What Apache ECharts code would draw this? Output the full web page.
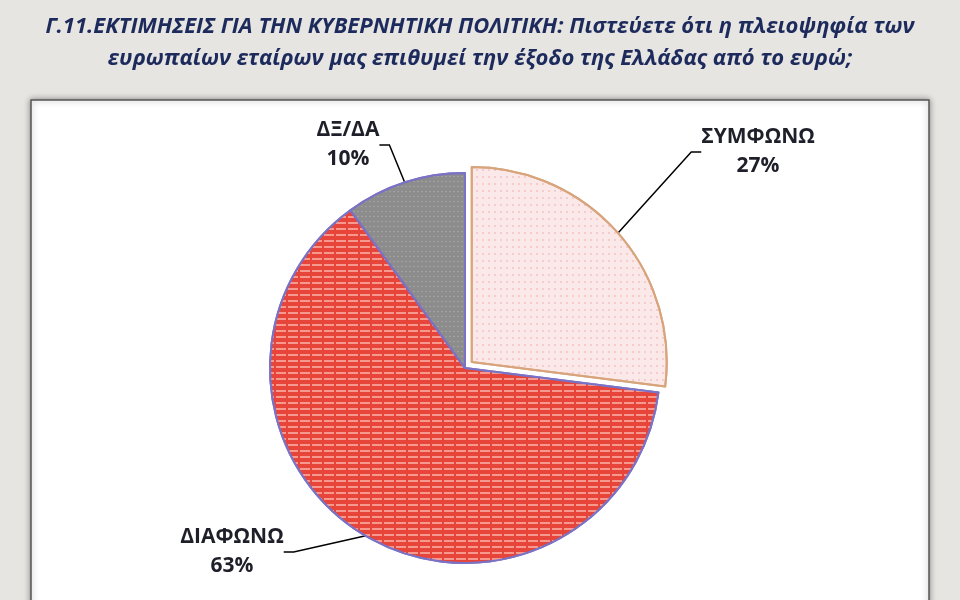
<!DOCTYPE html>
<html><head><meta charset="utf-8">
<script src="https://cdn.jsdelivr.net/npm/echarts@6/dist/echarts.min.js"></script>
<style>html,body{margin:0;padding:0;background:#e6e5e2}#c{width:960px;height:600px}</style>
</head><body><div id="c"></div>
<script>
const categories = ['ΣΥΜΦΩΝΩ', 'ΔΙΑΦΩΝΩ', 'ΔΞ/ΔΑ'];
const values = [27, 63, 10];
const labelPos = [[758, 152], [232, 552], [348, 145]];
const fills = ['#fbe9e9', '#e8453a', '#8c8c8c'];
const borders = ['#d8a47c', '#7a72c4', '#7a72c4'];
const decals = [
  {symbol:'circle', color:'rgba(230,110,110,0.55)', symbolSize:0.4, dashArrayX:[6,0], dashArrayY:[4,3]},
  {symbol:'rect', color:'rgba(255,190,180,0.7)', symbolSize:1, dashArrayX:[[10,2]], dashArrayY:[2,4]},
  {symbol:'circle', color:'rgba(200,200,200,0.5)', symbolSize:0.5, dashArrayX:[4,0], dashArrayY:[3,2]}
];
const total = values.reduce((a, b) => a + b, 0);
const bis = (90 - 180 * values[0] / total) * Math.PI / 180;
const off = 9;
const lbl = {formatter: '{b}\n{d}%', fontFamily:'Open Sans, sans-serif', fontWeight:'bold', fontSize: 21, color:'#1f1f2a', lineHeight: 29, align:'center'};
const line = {show: true, length: 20, length2: 10, lineStyle: {color:'#000', width: 1.5}};
const layout = p => ({x: labelPos[p.dataIndex][0], y: labelPos[p.dataIndex][1], align: 'center', verticalAlign: 'middle'});
function item(i, hidden) {
  return hidden
    ? {name: categories[i], value: values[i], itemStyle: {color:'rgba(0,0,0,0)', borderWidth:0}, label:{show:false}, labelLine:{show:false}}
    : {name: categories[i], value: values[i], itemStyle: {color: fills[i], borderColor: borders[i], borderWidth: 2, decal: decals[i]}};
}
const chart = echarts.init(document.getElementById('c'));
chart.setOption({
  backgroundColor: '#e6e5e2',
  title: {
    text: 'Γ.11.ΕΚΤΙΜΗΣΕΙΣ ΓΙΑ ΤΗΝ ΚΥΒΕΡΝΗΤΙΚΗ ΠΟΛΙΤΙΚΗ: Πιστεύετε ότι η πλειοψηφία των\nευρωπαίων εταίρων μας επιθυμεί την έξοδο της Ελλάδας από το ευρώ;',
    left: 'center', top: 6,
    textStyle: {fontFamily: 'Open Sans, sans-serif', fontStyle:'italic', fontWeight:'bold', fontSize: 22, color:'#1d2a5c', lineHeight: 32}
  },
  graphic: [{type:'rect', shape:{x:31, y:100, width:898, height:510}, style:{fill:'#ffffff', stroke:'#555', lineWidth:1.5, shadowBlur:6, shadowColor:'rgba(0,0,0,0.4)'}, z:-10}],
  series: [{
    type: 'pie', center: [465, 368], radius: 195, startAngle: 90, clockwise: true,
    data: categories.map((n, i) => item(i, i === 0)),
    label: lbl, labelLine: line, labelLayout: layout, emphasis: {disabled: true}
  }, {
    type: 'pie', center: [465 + off * Math.cos(bis), 368 - off * Math.sin(bis)], radius: 195, startAngle: 90, clockwise: true,
    data: categories.map((n, i) => item(i, i !== 0)),
    label: lbl, labelLine: line, labelLayout: layout, emphasis: {disabled: true}
  }]
});
</script></body></html>
